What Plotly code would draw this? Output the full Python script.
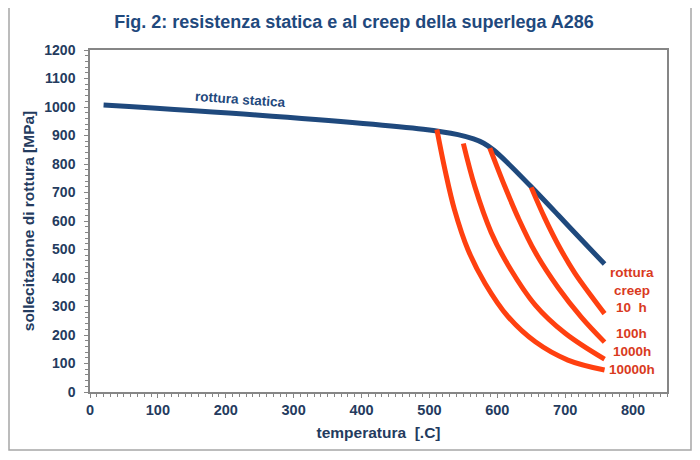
import plotly.graph_objects as go

# ---- data ----
static_x = [20, 245, 491, 542, 565, 580, 595, 616, 650, 690, 724, 758]
static_y = [1007, 972, 922, 903, 888, 873, 848, 802, 720, 620, 534, 449]

creep_10h_x = [650, 670, 690, 714, 739, 758]
creep_10h_y = [718, 610, 515, 418, 335, 275]

creep_100h_x = [589, 611, 631, 656, 690, 724, 758]
creep_100h_y = [856, 722, 610, 490, 365, 262, 175]

creep_1000h_x = [550, 567, 591, 616, 656, 700, 758]
creep_1000h_y = [872, 720, 560, 445, 305, 206, 115]

creep_10000h_x = [511, 523, 537, 557, 582, 616, 656, 704, 758]
creep_10000h_y = [921, 779, 639, 498, 381, 264, 176, 112, 77]

label_texts = ["rottura", "creep", "10  h", "100h", "1000h", "10000h"]
label_y = [420, 355, 298, 207, 141, 79]
label_x = 798

x_ticks = [0, 100, 200, 300, 400, 500, 600, 700, 800]
y_ticks = [0, 100, 200, 300, 400, 500, 600, 700, 800, 900, 1000, 1100, 1200]

BLUE = "#1F497D"
RED_LINE = "#FF4010"
RED_TEXT = "#D93A1E"
TEXT = "#243B5E"
FONT = "Liberation Sans, Arial, sans-serif"

# page offset of the figure (browser body margin)
OFF = 8
W, H = 700 - OFF, 460 - OFF
ML, MR, MT, MB = 90 - OFF, 33, 50 - OFF, 68
PW = W - ML - MR
PH = H - MT - MB


def px_to_paper_x(px):
    return (px - OFF - ML) / PW


def px_to_paper_y(py):
    return (H - MB - (py - OFF)) / PH


fig = go.Figure()
fig.add_trace(go.Scatter(x=static_x, y=static_y, mode="lines",
                         line=dict(color=BLUE, width=5, shape="spline", smoothing=0.9),
                         showlegend=False, hoverinfo="skip"))
for xs, ys in [(creep_10h_x, creep_10h_y), (creep_100h_x, creep_100h_y),
               (creep_1000h_x, creep_1000h_y), (creep_10000h_x, creep_10000h_y)]:
    fig.add_trace(go.Scatter(x=xs, y=ys, mode="lines",
                             line=dict(color=RED_LINE, width=5, shape="spline", smoothing=1.0),
                             showlegend=False, hoverinfo="skip"))

for t, yv in zip(label_texts, label_y):
    fig.add_annotation(x=label_x, y=yv, text="<b>%s</b>" % t, showarrow=False,
                       xanchor="center", yanchor="middle",
                       font=dict(family=FONT, size=13.5, color=RED_TEXT))

fig.add_annotation(x=221, y=1025, text="<b>rottura statica</b>", showarrow=False,
                   textangle=4, xanchor="center", yanchor="middle",
                   font=dict(family=FONT, size=13.5, color=BLUE))

# outer rounded frame
fig.add_shape(type="rect", xref="paper", yref="paper",
              x0=px_to_paper_x(9), x1=px_to_paper_x(691),
              y0=px_to_paper_y(450), y1=px_to_paper_y(6),
              line=dict(color="#A6A6A6", width=1.5), layer="below")

axis_common = dict(showgrid=False, zeroline=False, showline=True, linecolor="#868686",
                   linewidth=1.5, mirror=True, ticks="outside", ticklen=4,
                   tickcolor="#868686")

fig.update_layout(
    width=W, height=H,
    margin=dict(l=ML, r=MR, t=MT, b=MB),
    paper_bgcolor="white", plot_bgcolor="white",
    title=dict(text="<b>Fig. 2: resistenza statica e al creep della superlega A286</b>",
               x=(354 - OFF) / W, xref="container", xanchor="center",
               y=1 - (22 - OFF) / H, yref="container", yanchor="middle",
               font=dict(family=FONT, size=18, color=BLUE)),
    xaxis=dict(range=[0, 850], tickvals=x_ticks, ticktext=["<b>%d</b>" % v for v in x_ticks],
               tickfont=dict(family=FONT, size=14.5, color=TEXT),
               minor=dict(dtick=10, tick0=0, ticks="outside", ticklen=3, tickcolor="#868686"),
               title=dict(text="<b>temperatura  [.C]</b>", standoff=10,
                          font=dict(family=FONT, size=15.5, color=TEXT)),
               **axis_common),
    yaxis=dict(range=[0, 1200], tickvals=y_ticks, ticktext=["<b>%d</b>" % v for v in y_ticks],
               tickfont=dict(family=FONT, size=14, color=TEXT),
               ticklabelstandoff=6,
               minor=dict(dtick=20, tick0=0, ticks="outside", ticklen=3, tickcolor="#868686"),
               title=dict(text="<b>sollecitazione di rottura [MPa]</b>", standoff=6,
                          font=dict(family=FONT, size=15.5, color=TEXT)),
               **axis_common),
)

fig.write_html("out.html")
